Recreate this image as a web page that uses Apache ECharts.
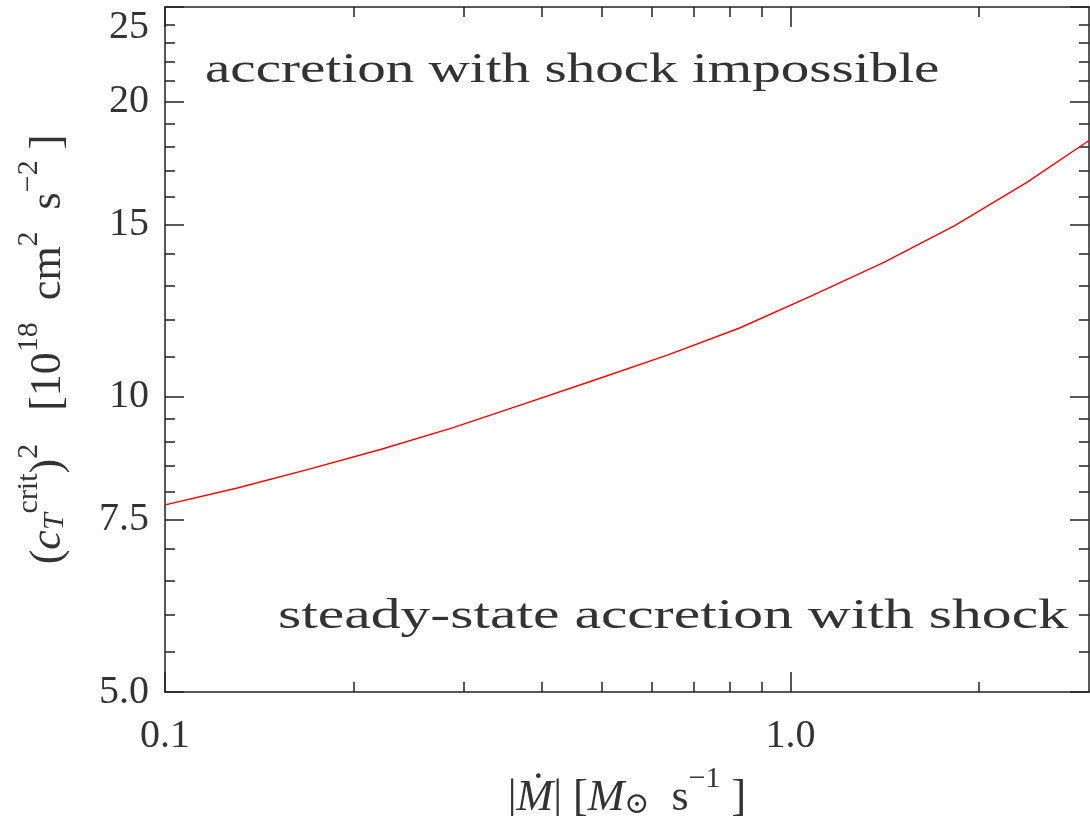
<!DOCTYPE html>
<html>
<head>
<meta charset="utf-8">
<script src="https://cdn.jsdelivr.net/npm/echarts@6/dist/echarts.min.js"></script>
<style>
  html, body { margin: 0; padding: 0; background: #fff; }
  #chart { width: 1090px; height: 816px; }
</style>
</head>
<body>
<div id="chart"></div>
<script>
// critical sound speed squared vs accretion rate
const mdot = [0.100, 0.130, 0.170, 0.221, 0.288, 0.375, 0.489, 0.637, 0.829, 1.08, 1.41, 1.83, 2.39, 3.0];
const cT2 = [7.76, 8.07, 8.44, 8.84, 9.30, 9.84, 10.42, 11.04, 11.76, 12.68, 13.72, 14.96, 16.57, 18.27];

// tick positions and labels
const xMajor = [0.1, 1];
const xMajorText = ['0.1', '1.0'];
const xMinor = [0.2, 0.3, 0.4, 0.5, 0.6, 0.7, 0.8, 0.9, 2];
const yMajor = [5, 7.5, 10, 15, 20, 25];
const yMajorText = ['5.0', '7.5', '10', '15', '20', '25'];
const yMinor = [5.5, 6, 6.5, 7, 8, 8.5, 9, 9.5, 11, 12, 13, 14, 16, 17, 18, 19, 21, 22, 23, 24];

const FONT = '"Liberation Serif", "DejaVu Serif", serif';
const INK = '#222';
const TXT = '#333';

var myChart = echarts.init(document.getElementById('chart'));

function lookup(vals, texts, v) {
    for (let i = 0; i < vals.length; i++) {
        if (Math.abs(vals[i] - v) / vals[i] < 1e-6) return texts[i];
    }
    return '';
}

function makeAxis(min, max, position, ticks, len, withLine, label) {
    return {
        type: 'log',
        logBase: 10,
        min: min,
        max: max,
        position: position,
        axisLine: { show: withLine, onZero: false, lineStyle: { color: INK, width: 1.5 } },
        axisTick: { show: true, inside: true, length: len, customValues: ticks, lineStyle: { color: INK, width: 1.5 } },
        axisLabel: label || { show: false },
        splitLine: { show: false },
        minorTick: { show: false },
        minorSplitLine: { show: false }
    };
}

const rich = {
    n: { fontFamily: FONT, fontSize: 44, color: TXT, lineHeight: 56, verticalAlign: 'bottom' },
    ni: { fontFamily: FONT, fontSize: 44, fontStyle: 'italic', color: TXT, lineHeight: 56, verticalAlign: 'bottom' },
    sup: { fontFamily: FONT, fontSize: 30, color: TXT, lineHeight: 30, verticalAlign: 'top' },
    sub: { fontFamily: FONT, fontSize: 30, fontStyle: 'italic', color: TXT, lineHeight: 30, verticalAlign: 'bottom' }
};

const xAxisMain = makeAxis(0.1, 3, 'bottom', xMajor, 20, true, {
    show: true,
    customValues: xMajor,
    margin: 24,
    fontFamily: FONT,
    fontSize: 40,
    color: TXT,
    formatter: v => lookup(xMajor, xMajorText, v)
});
xAxisMain.name = '{n||}{ni|Ṁ}{n|| [}{ni|M}{sub|⊙}{n|  s}{sup|−1}{n| ]}';
xAxisMain.nameLocation = 'middle';
xAxisMain.nameGap = 72;
xAxisMain.nameMoveOverlap = false;
xAxisMain.nameTextStyle = { rich: rich };

const yAxisMain = makeAxis(5, 25, 'left', yMajor, 19, true, {
    show: true,
    customValues: yMajor,
    margin: 16,
    fontFamily: FONT,
    fontSize: 40,
    color: TXT,
    verticalAlignMaxLabel: 'top',
    formatter: v => lookup(yMajor, yMajorText, v)
});
yAxisMain.name = '{n|(}{ni|c}{sub|T}{sup|crit}{n|)}{sup|2}{n|   [10}{sup|18}{n|  cm}{sup|2}{n|  s}{sup|−2}{n| ]}';
yAxisMain.nameLocation = 'middle';
yAxisMain.nameRotate = 90;
yAxisMain.nameGap = 95;
yAxisMain.nameMoveOverlap = false;
yAxisMain.nameTextStyle = { rich: rich };

const option = {
    animation: false,
    backgroundColor: '#fff',
    grid: { left: 165, right: 1, top: 7, bottom: 124, outerBoundsMode: 'none' },
    xAxis: [
        xAxisMain,
        makeAxis(0.1, 3, 'bottom', xMinor, 10, false),
        makeAxis(0.1, 3, 'top', xMajor, 20, true),
        makeAxis(0.1, 3, 'top', xMinor, 10, false)
    ],
    yAxis: [
        yAxisMain,
        makeAxis(5, 25, 'left', yMinor, 10, false),
        makeAxis(5, 25, 'right', yMajor, 19, true),
        makeAxis(5, 25, 'right', yMinor, 10, false)
    ],
    series: [
        {
            type: 'line',
            xAxisIndex: 0,
            yAxisIndex: 0,
            data: mdot.map((m, i) => [m, cT2[i]]),
            showSymbol: false,
            lineStyle: { color: '#ff0000', width: 1.4 },
            clip: true
        }
    ],
    graphic: [
        {
            type: 'text',
            x: 205,
            y: 71,
            scaleX: 1.36,
            style: { text: 'accretion with shock impossible', font: '42px ' + FONT, fill: TXT, align: 'left', verticalAlign: 'middle' }
        },
        {
            type: 'text',
            x: 278,
            y: 617,
            scaleX: 1.42,
            style: { text: 'steady-state accretion with shock', font: '42px ' + FONT, fill: TXT, align: 'left', verticalAlign: 'middle' }
        }
    ]
};

myChart.setOption(option);
</script>
</body>
</html>
